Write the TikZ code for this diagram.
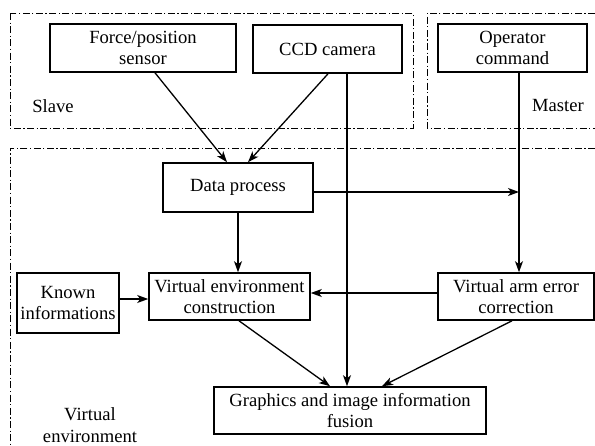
\documentclass[tikz,border=0pt]{standalone}
\usepackage{fontspec}
\setmainfont{Liberation Serif}
\newfontfamily\tnrfont{Liberation Serif}
\usetikzlibrary{arrows.meta}
\begin{document}
\begin{tikzpicture}[x=1pt,y=-1pt,
  blk/.style={draw,line width=1.6pt,align=center,inner sep=0pt,
    font=\tnrfont\fontsize{18.6}{21.5}\selectfont},
  lbl/.style={align=center,inner sep=0pt,font=\tnrfont\fontsize{18.6}{21.5}\selectfont},
  grp/.style={line width=0.9pt,dash pattern=on 7pt off 2.5pt on 1.2pt off 2.5pt},
  conn/.style={line width=1.3pt},
  arr/.style={conn,-{Stealth[length=11pt,width=8pt,inset=3pt]}}]
\useasboundingbox (0,0) rectangle (595,445);
% group frames
\draw[grp] (10,13) rectangle (413,128);
\draw[grp] (595,13) -- (427,13) -- (427,128) -- (595,128);
\draw[grp] (595,148) -- (10,148) -- (10,445);
% blocks
\node[blk,minimum width=186pt,minimum height=48pt] (force) at (143,48) {Force/position\\sensor};
\node[blk,minimum width=149pt,minimum height=48pt] (ccd) at (327.5,49) {CCD camera};
\node[blk,minimum width=149pt,minimum height=48pt] (op) at (512.5,48) {Operator\\command};
\node[blk,minimum width=150pt,minimum height=49pt] (data) at (238,187.5) {Data process};
\node[blk,minimum width=102pt,minimum height=60pt] (known) at (68,303) {Known\\informations};
\node[blk,minimum width=161pt,minimum height=47pt] (vec) at (229.5,296.5) {Virtual environment\\construction};
\node[blk,minimum width=156pt,minimum height=47pt] (vaec) at (516,296.5) {Virtual arm error\\correction};
\node[blk,minimum width=272pt,minimum height=47pt] (gif) at (350,410.5) {Graphics and image information\\fusion};
% labels
\node[lbl] (slave) at (53,106) {Slave};
\node[lbl] (master) at (558,105) {Master};
\node[lbl] (venv) at (90,425) {Virtual\\environment};
% connectors
\coordinate (fs) at ([xshift=12pt]force.south);
\coordinate (dn1) at ([xshift=-11pt]data.north);
\coordinate (cs) at ([xshift=0.5pt]ccd.south);
\coordinate (dn2) at ([xshift=10pt]data.north);
\coordinate (cv) at ([xshift=19.5pt]ccd.south);
\coordinate (os) at ([xshift=6.5pt]op.south);
\coordinate (de) at ([yshift=-4.5pt]data.east);
\coordinate (ke) at ([yshift=4pt]known.east);
\coordinate (vw) at ([yshift=3.5pt]vaec.west);
\coordinate (vs) at ([xshift=9.5pt]vec.south);
\coordinate (gn1) at ([xshift=-20pt]gif.north);
\coordinate (as) at ([xshift=-4pt]vaec.south);
\coordinate (gn3) at ([xshift=32pt]gif.north);
\draw[arr] (fs) -- (dn1);
\draw[arr] (cs) -- (dn2);
\draw[arr] (cv) -- (cv |- gif.north);
\draw[arr] (os) -- (os |- vaec.north);
\draw[arr] (de) -- (os |- de);
\draw[arr] (data.south) -- (data.south |- vec.north);
\draw[arr] (ke) -- (vec.west |- ke);
\draw[arr] (vw) -- (vec.east |- vw);
\draw[arr] (vs) -- (gn1);
\draw[arr] (as) -- (gn3);
\end{tikzpicture}
\end{document}
